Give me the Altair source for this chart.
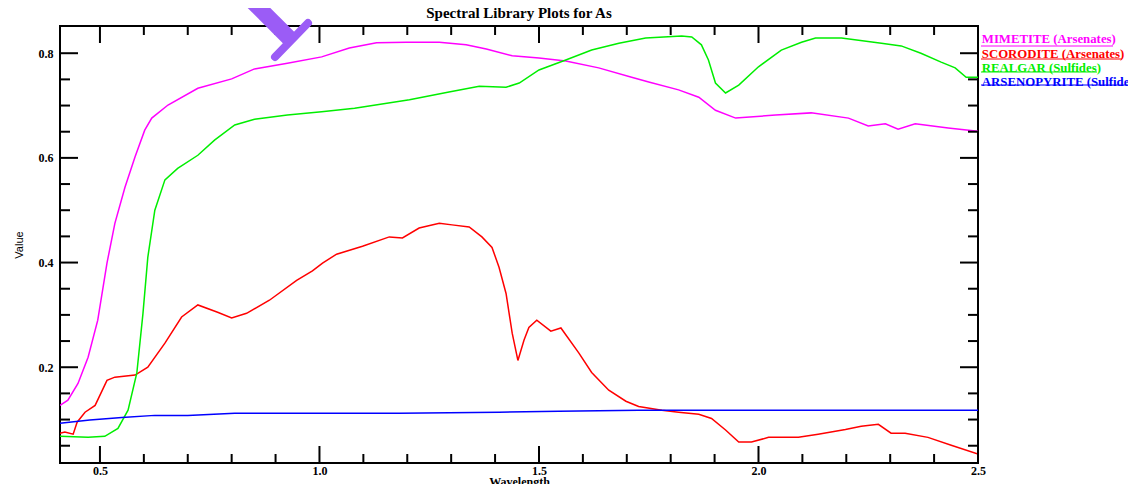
import altair as alt
import pandas as pd

# ---------------- data ----------------
series_names = ["MIMETITE (Arsenates)", "SCORODITE (Arsenates)",
                "REALGAR (Sulfides)", "ARSENOPYRITE (Sulfides)"]
series_colors = ["#ff00ff", "#ff0000", "#00ee00", "#0000ff"]
chart_title = "Spectral Library Plots for As"

mimetite_wl = [0.409, 0.427, 0.450, 0.473, 0.495, 0.516, 0.534, 0.557, 0.580, 0.602,
               0.618, 0.655, 0.723, 0.800, 0.852, 0.927, 1.005, 1.068, 1.130, 1.198,
               1.273, 1.334, 1.380, 1.439, 1.500, 1.561, 1.636, 1.711, 1.750, 1.818,
               1.864, 1.902, 1.948, 2.039, 2.120, 2.205, 2.250, 2.289, 2.318, 2.357,
               2.432, 2.500]
mimetite_val = [0.127, 0.137, 0.169, 0.219, 0.290, 0.399, 0.475, 0.544, 0.602, 0.653,
                0.676, 0.701, 0.733, 0.751, 0.770, 0.781, 0.793, 0.810, 0.820, 0.821,
                0.821, 0.816, 0.808, 0.795, 0.791, 0.785, 0.772, 0.754, 0.745, 0.730,
                0.716, 0.691, 0.676, 0.682, 0.686, 0.676, 0.661, 0.665, 0.655, 0.665,
                0.657, 0.651]

scorodite_wl = [0.409, 0.420, 0.439, 0.448, 0.466, 0.489, 0.516, 0.534, 0.580, 0.609,
                0.648, 0.686, 0.723, 0.768, 0.800, 0.834, 0.886, 0.948, 0.984, 1.007,
                1.039, 1.098, 1.159, 1.189, 1.227, 1.273, 1.302, 1.341, 1.370, 1.393,
                1.409, 1.425, 1.439, 1.452, 1.466, 1.477, 1.495, 1.527, 1.550, 1.591,
                1.620, 1.659, 1.698, 1.727, 1.780, 1.818, 1.864, 1.893, 1.925, 1.955,
                1.984, 2.023, 2.091, 2.136, 2.198, 2.234, 2.273, 2.302, 2.334, 2.386,
                2.439, 2.500]
scorodite_val = [0.074, 0.076, 0.072, 0.095, 0.114, 0.127, 0.175, 0.181, 0.185, 0.200,
                 0.246, 0.296, 0.319, 0.305, 0.294, 0.303, 0.328, 0.366, 0.384, 0.399,
                 0.416, 0.431, 0.449, 0.447, 0.466, 0.475, 0.472, 0.468, 0.449, 0.429,
                 0.391, 0.341, 0.265, 0.213, 0.252, 0.276, 0.290, 0.269, 0.275, 0.227,
                 0.190, 0.156, 0.135, 0.125, 0.118, 0.114, 0.110, 0.102, 0.080, 0.057,
                 0.057, 0.066, 0.066, 0.072, 0.081, 0.087, 0.091, 0.074, 0.074, 0.066,
                 0.051, 0.034]

realgar_wl = [0.409, 0.473, 0.511, 0.541, 0.564, 0.584, 0.598, 0.609, 0.625, 0.648,
              0.677, 0.723, 0.761, 0.807, 0.852, 0.927, 1.005, 1.080, 1.205, 1.295,
              1.364, 1.425, 1.455, 1.500, 1.561, 1.620, 1.682, 1.743, 1.825, 1.848,
              1.870, 1.886, 1.902, 1.925, 1.955, 2.000, 2.052, 2.098, 2.130, 2.189,
              2.280, 2.325, 2.370, 2.416, 2.448, 2.473, 2.500]
realgar_val = [0.068, 0.066, 0.068, 0.083, 0.118, 0.189, 0.303, 0.410, 0.500, 0.558,
               0.580, 0.605, 0.634, 0.663, 0.674, 0.682, 0.688, 0.695, 0.711, 0.726,
               0.737, 0.735, 0.743, 0.768, 0.787, 0.806, 0.819, 0.829, 0.833, 0.831,
               0.816, 0.787, 0.743, 0.724, 0.739, 0.774, 0.806, 0.821, 0.829, 0.829,
               0.819, 0.814, 0.800, 0.783, 0.772, 0.754, 0.754]

arsenopyrite_wl = [0.409, 0.477, 0.550, 0.625, 0.700, 0.807, 0.955, 1.182, 1.409,
                   1.545, 1.727, 2.000, 2.500]
arsenopyrite_val = [0.093, 0.099, 0.104, 0.108, 0.108, 0.112, 0.112, 0.112, 0.114,
                    0.116, 0.118, 0.118, 0.118]

x_major = [0.5, 1.0, 1.5, 2.0, 2.5]
x_minor = [0.6, 0.7, 0.8, 0.9, 1.1, 1.2, 1.3, 1.4, 1.6, 1.7, 1.8, 1.9,
           2.1, 2.2, 2.3, 2.4]
y_major = [0.2, 0.4, 0.6, 0.8]
y_minor = [0.05, 0.1, 0.15, 0.25, 0.3, 0.35, 0.45, 0.5, 0.55, 0.65, 0.7, 0.75]

x_domain = [0.409, 2.5]
y_domain = [0.017, 0.852]

# ---------------- build table ----------------
rows = []
for name, wl, val in [(series_names[0], mimetite_wl, mimetite_val),
                      (series_names[1], scorodite_wl, scorodite_val),
                      (series_names[2], realgar_wl, realgar_val),
                      (series_names[3], arsenopyrite_wl, arsenopyrite_val)]:
    for w, v in zip(wl, val):
        rows.append({"series": name, "wavelength": w, "value": v})
df = pd.DataFrame(rows)

W, H = 918, 437
SERIF = "Liberation Serif"
LEG_FS = 12.8
LEG_ROW = 13
xs = alt.Scale(domain=x_domain, nice=False, zero=False)
ys = alt.Scale(domain=y_domain, nice=False, zero=False)

x_axis = alt.Axis(values=x_major, format=".1f", ticks=False, tickSize=0,
                  domain=False, grid=False, labelFlush=False,
                  labelFont=SERIF, labelFontWeight="bold", labelFontSize=12,
                  labelColor="black", labelPadding=2,
                  title="Wavelength", titleFont=SERIF, titleFontWeight="bold",
                  titleFontSize=12, titleColor="black", titlePadding=0)
y_axis = alt.Axis(values=y_major, format=".1f", ticks=False, tickSize=0,
                  domain=False, grid=False, labelFlush=False,
                  labelFont=SERIF, labelFontWeight="bold", labelFontSize=12,
                  labelColor="black", labelPadding=7,
                  title="Value", titleFont="Liberation Sans",
                  titleFontWeight="normal", titleFontSize=11,
                  titleColor="black", titlePadding=14)

label_color_expr = "".join(
    f"datum.value === '{n}' ? '{c}' : " for n, c in zip(series_names, series_colors)
) + "'black'"

lines = alt.Chart(df).mark_line(strokeWidth=1.5, clip=True).encode(
    x=alt.X("wavelength:Q", scale=xs, axis=x_axis),
    y=alt.Y("value:Q", scale=ys, axis=y_axis),
    color=alt.Color("series:N", sort=series_names,
                    scale=alt.Scale(domain=series_names, range=series_colors),
                    legend=alt.Legend(orient="none", legendX=W - 9, legendY=7,
                                      title=None, padding=0, symbolSize=0,
                                      symbolOpacity=0, symbolStrokeWidth=0,
                                      labelOffset=0, labelFont=SERIF,
                                      labelFontWeight="bold", labelFontSize=LEG_FS,
                                      labelLimit=300, rowPadding=LEG_ROW - LEG_FS,
                                      labelColor=alt.ExprRef(label_color_expr))),
)

def tick_layer(values, axis, length, edge):
    d = pd.DataFrame({"t": values})
    base = alt.Chart(d).mark_rule(color="black", strokeWidth=2)
    if axis == "x":
        if edge == "bottom":
            return base.encode(x=alt.X("t:Q", scale=xs, axis=x_axis),
                               y=alt.value(H), y2=alt.value(H - length))
        return base.encode(x=alt.X("t:Q", scale=xs, axis=x_axis),
                           y=alt.value(0), y2=alt.value(length))
    if edge == "left":
        return base.encode(y=alt.Y("t:Q", scale=ys, axis=y_axis),
                           x=alt.value(0), x2=alt.value(length))
    return base.encode(y=alt.Y("t:Q", scale=ys, axis=y_axis),
                       x=alt.value(W), x2=alt.value(W - length))

ticks = [
    tick_layer(x_major, "x", 17, "bottom"), tick_layer(x_major, "x", 17, "top"),
    tick_layer(x_minor, "x", 9, "bottom"), tick_layer(x_minor, "x", 9, "top"),
    tick_layer(y_major, "y", 18, "left"), tick_layer(y_major, "y", 18, "right"),
    tick_layer(y_minor, "y", 10, "left"), tick_layer(y_minor, "y", 10, "right"),
]

one = pd.DataFrame({"a": [0]})

# underlines beneath the legend labels (style lengths in pixels)
underline_len = [132, 141, 116, 160]
underlines = []
for i, (c, ln) in enumerate(zip(series_colors, underline_len)):
    yy = 20 + i * LEG_ROW
    underlines.append(
        alt.Chart(one).mark_rule(color=c, strokeWidth=1).encode(
            x=alt.value(W + 3), x2=alt.value(W + 3 + ln),
            y=alt.value(yy), y2=alt.value(yy)))

title_mark = alt.Chart(one).mark_text(
    font=SERIF, fontWeight="bold", fontSize=15, color="black",
    align="center", baseline="alphabetic").encode(
    x=alt.value(W / 2), y=alt.value(-8), text=alt.value(chart_title))

# purple pointer annotation at the top of the picture
arrow_color = "#9b5cf6"
arrow_bar = alt.Chart(one).mark_rule(
    color=arrow_color, strokeWidth=16, strokeCap="butt").encode(
    x=alt.value(191), y=alt.value(-26), x2=alt.value(231), y2=alt.value(14))
arrow_head = alt.Chart(one).mark_rule(
    color=arrow_color, strokeWidth=8, strokeCap="round").encode(
    x=alt.value(215), y=alt.value(31), x2=alt.value(248), y2=alt.value(-3))

chart = alt.layer(lines, *ticks, *underlines, arrow_bar, arrow_head,
                  title_mark).properties(
    width=W, height=H,
    autosize=alt.AutoSizeParams(type="none"),
    padding={"left": 52, "top": 18, "right": 150, "bottom": 21},
).configure(
    background="white",
    view=alt.ViewConfig(stroke="black", strokeWidth=2),
)

chart.save("out.html", embed_options={"renderer": "svg", "actions": False})
